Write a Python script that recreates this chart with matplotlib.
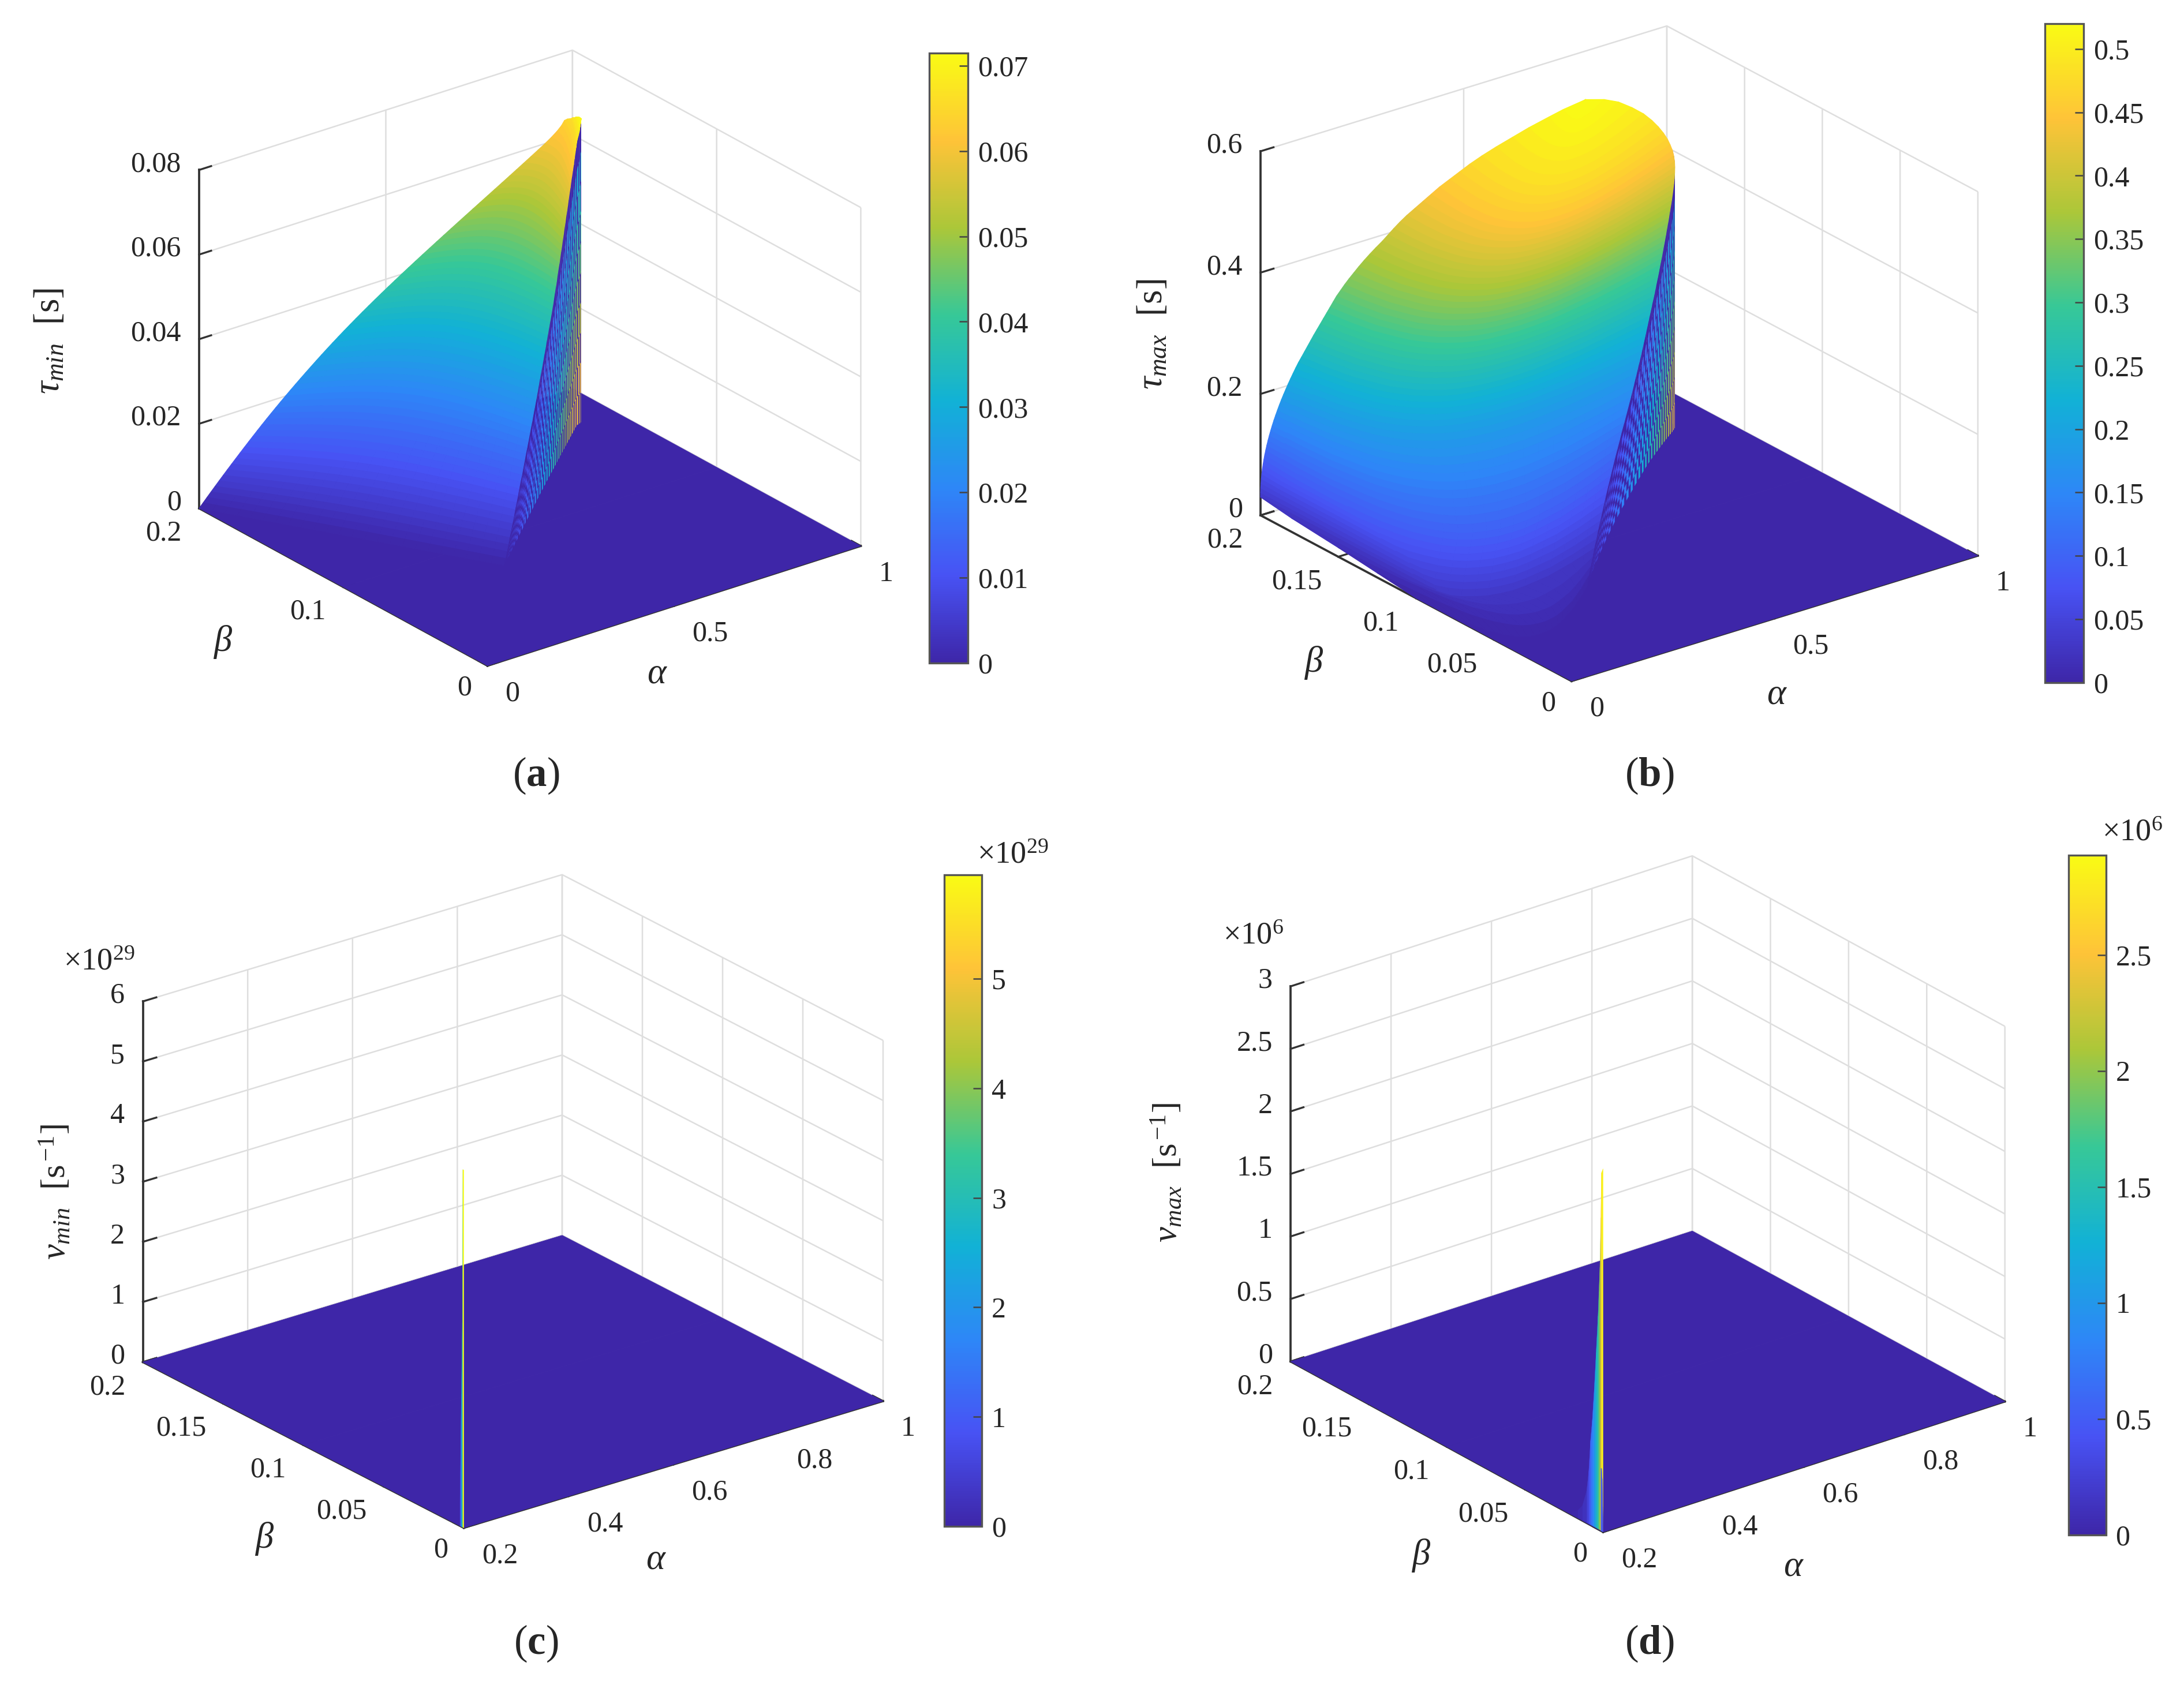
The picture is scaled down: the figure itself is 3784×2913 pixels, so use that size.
import numpy as np
import matplotlib
matplotlib.use('Agg')
import matplotlib.pyplot as plt
from matplotlib.cm import ScalarMappable
from matplotlib.colors import LinearSegmentedColormap, Normalize
from mpl_toolkits.mplot3d import proj3d

W, H = 3784, 2913

parula_colors = [(0.2422, 0.1504, 0.6603), (0.2810, 0.3228, 0.9579), (0.1786, 0.5289, 0.9682),
                 (0.0689, 0.6948, 0.8394), (0.2161, 0.7843, 0.5923), (0.6720, 0.7793, 0.2227),
                 (0.9970, 0.7659, 0.2199), (0.9769, 0.9839, 0.0805)]

# tau_min surface, one row per height: left end (alpha, beta) and right end (alpha, beta)
tau_min_z = [0, .001, .002, .003, .004, .005, .006, .007, .008, .009,
             .010, .011, .012, .013, .014, .015, .016, .017, .018, .019,
             .020, .021, .022, .023, .024, .025, .026, .027, .028, .029,
             .030, .031, .032, .033, .034, .035, .036, .037, .038, .039,
             .040, .041, .042, .043, .044, .045, .046, .047, .048, .049,
             .050, .051, .052, .053, .054, .055, .056, .057, .058, .059,
             .060, .061, .062, .063, .064, .065, .066, .067, .068, .069,
             .070, .071, .0717]
tau_min_left_a = [0, .0105, .0211, .0318, .0426, .0535, .0645, .0756, .0868, .0981,
                  .1095, .1210, .1326, .1443, .1561, .1681, .1803, .1927, .2053, .2181,
                  .2311, .2443, .2577, .2713, .2851, .2991, .3133, .3277, .3424, .3574,
                  .3727, .3883, .4042, .4204, .4369, .4537, .4708, .4882, .5059, .5239,
                  .5421, .5605, .5791, .5979, .6169, .6360, .6552, .6745, .6939, .7134,
                  .7330, .7526, .7722, .7918, .8114, .8309, .8503, .8696, .8888, .9078,
                  .9266, .9436, .9586, .9706, .9786, .975, .970, .962, .953, .943,
                  .933, .922, .911]
tau_min_left_b = [.2] * 65 + [.197, .193, .190, .186, .183, .179, .175, .171]
tau_min_right_a = [.338, .3487, .3594, .3701, .3808, .3915, .4022, .4129, .4236, .4343,
                   .4450, .4557, .4662, .4767, .4871, .4975, .5078, .5180, .5281, .5381,
                   .5480, .5578, .5675, .5771, .5866, .5960, .6053, .6145, .6236, .6326,
                   .6415, .6503, .6590, .6676, .6761, .6845, .6928, .7010, .7088, .7160,
                   .7232, .7302, .7371, .7439, .7506, .7572, .7637, .7702, .7766, .7830,
                   .7893, .7956, .8019, .8082, .8145, .8208, .8270, .8332, .8394, .8456,
                   .8518, .8580, .8642, .8704, .8766, .8828, .8885, .8940, .8990, .9030,
                   .9065, .9095, .911]
tau_min_right_b = [.076, .0779, .0797, .0815, .0834, .0852, .0870, .0888, .0907, .0925,
                   .0943, .0962, .0980, .0997, .1015, .1033, .1051, .1068, .1085, .1102,
                   .1119, .1135, .1152, .1168, .1184, .1200, .1216, .1232, .1247, .1262,
                   .1277, .1292, .1306, .1321, .1335, .1349, .1363, .1376, .1389, .1401,
                   .1413, .1425, .1436, .1447, .1459, .1470, .1480, .1491, .1502, .1512,
                   .1523, .1533, .1544, .1554, .1565, .1575, .1585, .1596, .1606, .1616,
                   .1627, .1637, .1647, .1657, .1668, .1678, .1687, .1696, .1700, .1702,
                   .1706, .1708, .171]
tau_min_bow = [0, .003, .006, .009, .012, .015, .018, .021, .024, .027, .03, .033, .036, .039, .042, .045, .048,
               .051, .054, .057, .06] + [.06] * 30 + [.057, .054, .051, .048, .045, .042, .039, .036, .033, .03,
                                                     .027, .024, .021, .018, .015, .012, .01, .008, .006, .004,
                                                     .002, 0]

# tau_max surface
tau_max_z = [0, .0075, .015, .0225, .03, .0375, .045, .0525, .06, .0675,
             .075, .0825, .09, .0975, .105, .1125, .12, .1275, .135, .1425,
             .15, .1575, .165, .1725, .18, .1875, .195, .2025, .21, .2175,
             .225, .2325, .24, .2475, .255, .2625, .27, .2775, .285, .2925,
             .30, .3075, .315, .3225, .33, .3375, .345, .3525, .36, .3675,
             .375, .3825, .39, .3975, .405, .4125, .42, .4275, .435, .4425,
             .45, .4575, .465, .4725, .48, .4875, .495, .5025, .51, .515,
             .52]
tau_max_left_a = [0, 0, 0, 0, 0, .0001, .0005, .0012, .002, .0032,
                  .0046, .0063, .0082, .0104, .0129, .0156, .0186, .0218, .0253, .029,
                  .033, .0373, .0418, .0465, .0515, .0568, .0623, .068, .074, .0802,
                  .0866, .0933, .101, .1085, .116, .1235, .131, .139, .147, .155,
                  .163, .171, .179, .187, .197, .207, .218, .230, .242, .255,
                  .269, .284, .300, .314, .328, .343, .360, .380, .40, .42,
                  .44, .465, .49, .515, .545, .58, .62, .66, .71, .745,
                  .80]
tau_max_left_b = [.10, .125, .15, .18] + [.2] * 67
tau_max_right_a = [.303, .3195, .336, .3525, .369, .3855, .402, .4185, .435, .4515,
                   .468, .4845, .501, .5175, .534, .5505, .567, .583, .5985, .6135,
                   .628, .642, .6555, .6685, .681, .693, .7045, .7155, .726, .736,
                   .7455, .7545, .763, .7712, .7792, .787, .7945, .8018, .8089, .8158,
                   .8225, .829, .8353, .8414, .8473, .853, .8585, .8638, .8689, .8738,
                   .8785, .883, .8873, .8914, .8953, .899, .9025, .9055, .908, .9098,
                   .9105, .9105, .9095, .9075, .9045, .90, .893, .88, .862, .838,
                   .80]
tau_max_right_b = [.069, .0725, .0757, .0788, .082, .085, .0881, .0911, .0941, .0971,
                   .1001, .103, .1059, .1088, .1117, .1145, .1173, .1201, .1226, .1251,
                   .1275, .1298, .132, .1342, .1362, .1382, .14, .1418, .1435, .1451,
                   .1466, .148, .1493, .1505, .1517, .1528, .1539, .155, .156, .157,
                   .158, .1589, .1598, .1607, .1615, .1623, .1631, .1638, .1645, .1652,
                   .1658, .1664, .167, .1676, .1682, .1688, .1695, .1702, .171, .172,
                   .173, .1745, .176, .178, .1805, .1835, .187, .191, .195, .198,
                   .2]
tau_max_bow = [-.09, -.09, -.10, -.13] + [-.18] * 57 + [-.17, -.165, -.16, -.15, -.14, -.12, -.10, -.08, -.05, 0]
tau_max_bow_b = [-.2, -.24, -.27, -.30] + [-.30] * 10 + [-.29, -.28, -.27, -.26, -.25, -.24, -.23, -.22, -.21, -.20,
                                                         -.19, -.185, -.18, -.18] + [-.18] * 33 + \
                [-.17, -.165, -.16, -.15, -.14, -.12, -.10, -.08, -.05, 0]

# how far a row sags between its two ends
bow_shape = [0, .13, .26, .38, .5, .6, .7, .79, .86, .92, .96, .99, 1, .99, .96, .92, .86, .79, .7, .6, .5, .38, .26, .13, 0]

# spikes at alpha = 0.2: beta of each strip, height in the axis units (1e29 and 1e6)
v_min_beta = [.0024, .0021, .0018, .0015, .0012, .0009, .0006, 0]
v_min_height = [.4, .9, 1.6, 2.2, 2.8, 3.4, 5.95, 5.95]
v_max_beta = [.0204, .0165, .0135, .0108, .0095, .0084, .0072, .006, .0048, .0036, .003, .0024, .0018, .00144, .0004]
v_max_height = [.02, .06, .12, .26, .42, .67, .85, 1.1, 1.4, 1.7, 1.9, 2.1, 2.5, 2.86, 2.9]
v_max_front_beta = [.0014, .0010, .0006, .0003, 0]
v_max_front_height = [.5, .5, .42, .2, .05]

cbar_ticks_a = [0, .01, .02, .03, .04, .05, .06, .07]
cbar_labels_a = ['0', '0.01', '0.02', '0.03', '0.04', '0.05', '0.06', '0.07']
cbar_ticks_b = [0, .05, .1, .15, .2, .25, .3, .35, .4, .45, .5]
cbar_labels_b = ['0', '0.05', '0.1', '0.15', '0.2', '0.25', '0.3', '0.35', '0.4', '0.45', '0.5']
cbar_ticks_c = [0, 1, 2, 3, 4, 5]
cbar_labels_c = ['0', '1', '2', '3', '4', '5']
cbar_ticks_d = [0, .5, 1, 1.5, 2, 2.5]
cbar_labels_d = ['0', '0.5', '1', '1.5', '2', '2.5']

alpha_ticks_ab = [0, .5, 1]
alpha_labels_ab = ['0', '0.5', '1']
alpha_ticks_cd = [.2, .4, .6, .8, 1]
alpha_labels_cd = ['0.2', '0.4', '0.6', '0.8', '1']
beta_ticks_a = [0, .1, .2]
beta_labels_a = ['0', '0.1', '0.2']
beta_ticks = [0, .05, .1, .15, .2]
beta_labels = ['0', '0.05', '0.1', '0.15', '0.2']
z_ticks_a = [0, .02, .04, .06, .08]
z_labels_a = ['0', '0.02', '0.04', '0.06', '0.08']
z_ticks_b = [0, .2, .4, .6]
z_labels_b = ['0', '0.2', '0.4', '0.6']
z_ticks_c = [0, 1, 2, 3, 4, 5, 6]
z_labels_c = ['0', '1', '2', '3', '4', '5', '6']
z_ticks_d = [0, .5, 1, 1.5, 2, 2.5, 3]
z_labels_d = ['0', '0.5', '1', '1.5', '2', '2.5', '3']

plt.rcParams['font.family'] = ['Liberation Serif', 'DejaVu Serif']
plt.rcParams['mathtext.fontset'] = 'custom'
plt.rcParams['mathtext.rm'] = 'Liberation Serif'
plt.rcParams['mathtext.it'] = 'Liberation Serif:italic'
plt.rcParams['mathtext.bf'] = 'Liberation Serif:bold'
plt.rcParams['mathtext.fallback'] = 'stix'
plt.rcParams['grid.color'] = '#dedede'
plt.rcParams['grid.linewidth'] = 0.6
plt.rcParams['axes.linewidth'] = 0.6
plt.rcParams['axes.edgecolor'] = '#333333'
TEXT = '#262626'
FS = 12

parula = LinearSegmentedColormap.from_list('parula', parula_colors, N=256)
fig = plt.figure(figsize=(W / 300, H / 300), dpi=300, facecolor='white')


def sx(x):
    return x / 1568


def sy(y):
    return 1 - y / 1207


def label(x, y, s, **kw):
    kw.setdefault('fontsize', FS)
    fig.text(sx(x), sy(y), s, ha='center', va='center', color=TEXT, **kw)


# Work out the view from where the box corners sit in the reference (1568 wide coords)
def make_axes(origin, xend, yend, ztop, xlim, zmax, xticks, xlabels, yticks, ylabels, zticks, zlabels):
    xdx, xdy = xend[0] - origin[0], origin[1] - xend[1]
    ydx, ydy = origin[0] - yend[0], origin[1] - yend[1]
    r1, r2 = xdy / xdx, ydy / ydx
    sin_e = np.sqrt(r1 * r2)
    a = np.arctan(np.sqrt(r1 / r2))
    e = np.arcsin(sin_e)
    lx, ly = xdx / np.cos(a), ydx / np.sin(a)
    lz = (yend[1] - ztop[1]) / np.cos(e)

    ax = fig.add_axes([0.1, 0.1, 0.3, 0.3 * W / H], projection='3d', proj_type='ortho', computed_zorder=False)
    ax.view_init(elev=np.degrees(e), azim=-90 - np.degrees(a))
    ax.set_box_aspect((lx, ly, lz))
    ax.set_xlim(xlim[0], xlim[1], view_margin=0)
    ax.set_ylim(0, .2, view_margin=0)
    ax.set_zlim(0, zmax, view_margin=0)
    ax.patch.set_visible(False)
    ax.set_xticks(xticks, [''] * len(xticks))
    ax.set_yticks(yticks, [''] * len(yticks))
    ax.set_zticks(zticks, [''] * len(zticks))
    for axis in [ax.xaxis, ax.yaxis, ax.zaxis]:
        axis.pane.set_visible(False)
        axis.line.set_color('#333333')
        axis.line.set_linewidth(0.9)
        axis._axinfo['tick']['inward_factor'] = 0
        axis._axinfo['tick']['outward_factor'] = 0.4
    ax.tick_params(axis='both', color='#333333', width=0.6)
    ax.tick_params(axis='z', color='#333333', width=0.6)
    ax.target = (origin, xend, xlim, zmax)
    ax.tick_text = (xticks, xlabels, yticks, ylabels, zticks, zlabels)
    return ax


def to_fig(ax, x, y, z):
    p = proj3d.proj_transform(x, y, z, ax.M)[:2]
    return ax.transData.transform(p)


def fit_axes(ax):
    # move and scale the axes until the box corners land on the targets
    origin, xend, xlim, zmax = ax.target
    ax.M = ax.get_proj()
    q0 = to_fig(ax, xlim[0], 0, 0)
    q1 = to_fig(ax, xlim[1], 0, 0)
    want0 = np.array([origin[0] / 1568 * W, (1 - origin[1] / 1207) * H])
    want1 = np.array([xend[0] / 1568 * W, (1 - xend[1] / 1207) * H])
    k = np.linalg.norm(want1 - want0) / np.linalg.norm(q1 - q0)
    pos = ax.get_position()
    cx, cy = (pos.x0 + pos.x1) / 2 * W, (pos.y0 + pos.y1) / 2 * H
    cx2 = want0[0] + (cx - q0[0]) * k
    cy2 = want0[1] + (cy - q0[1]) * k
    w2, h2 = pos.width * k, pos.height * k
    ax.set_position([cx2 / W - w2 / 2, cy2 / H - h2 / 2, w2, h2])


def tick_text(ax, x, y, z, s, dx, dy, ha='center'):
    # dx, dy are reference pixels from the foot of the tick
    p = to_fig(ax, x, y, z)
    fig.text(p[0] / W + dx / 1568, p[1] / H - dy / 1207, s, ha=ha, va='center', color=TEXT, fontsize=FS)


def place_tick_labels(ax):
    xticks, xlabels, yticks, ylabels, zticks, zlabels = ax.tick_text
    ax.M = ax.get_proj()
    for v, s in zip(xticks, xlabels):
        tick_text(ax, v, 0, 0, s, 14 + 4 * len(s), 20)
    for v, s in zip(yticks, ylabels):
        tick_text(ax, xticks[0], v, 0, s, -(12 + 4.5 * len(s)), 16 if s == '0' else 18)
    for v, s in zip(zticks, zlabels):
        tick_text(ax, xticks[0], .2, v, s, -13, -4, ha='right')


def floor(ax, xlim, xback):
    # xback leaves out the far left corner where the surface hangs clear of the floor
    xx = np.array([[xlim[0], xlim[1]], [xlim[0], xlim[1]], [xback, xlim[1]]])
    yy = np.array([[0, 0], [.1, .1], [.2, .2]])
    ax.plot_surface(xx, yy, np.zeros_like(xx), facecolors=parula(np.zeros((2, 1))), shade=False,
                    rstride=1, cstride=1, linewidth=0.2, zorder=1)


def sheet(ax, z, left_a, left_b, right_a, right_b, bow, bow_b, zmax):
    z = np.array(z)
    la, lb, ra, rb = map(np.array, (left_a, left_b, right_a, right_b))
    frac = np.linspace(0, 1, len(bow_shape))
    aa = np.clip(la[:, None] + np.outer(ra - la, frac) + np.outer(bow, bow_shape), 0, 1)
    bb = np.clip(lb[:, None] + np.outer(rb - lb, frac) + .2 * np.outer(bow_b, bow_shape), 0, .2)
    zz = np.outer(z, np.ones(len(frac)))
    norm = Normalize(0, zmax)
    # the drop from the right end of each row down to the floor, a comb of light and dark facets
    levels = np.array([0, .1, .2, .3, .4, .5, .6, .7, .8, .9, 1])
    n = np.searchsorted(z, z[np.argmax(ra)]) + 1
    wa = np.outer(ra[:n], np.ones(len(levels)))
    wb = np.outer(rb[:n], np.ones(len(levels)))
    wz = np.outer(z[:n], levels)
    shade_vals = np.outer(np.arange(n - 1) / (n - 1), 1 - .6 * levels[1:])
    ii, jj = np.indices(shade_vals.shape)
    shade_vals[(ii + jj) % 2 == 0] = 0
    shade_vals[:, -1] = 0
    ax.plot_surface(wa, wb, wz, facecolors=parula(shade_vals), shade=False, rstride=1, cstride=1,
                    linewidth=0.1, zorder=2)
    ax.plot_surface(aa, bb, zz, facecolors=parula(norm(zz[:-1, :-1] / 2 + zz[1:, 1:] / 2)), shade=False,
                    rstride=1, cstride=1, linewidth=0.3, zorder=3)


def strips(ax, beta, height, alpha, zmax, zorder):
    beta, height = np.array(beta), np.array(height)
    aa = np.full((len(beta), 2), alpha)
    bb = np.column_stack([beta, beta])
    zz = np.column_stack([np.zeros(len(beta)), height])
    ax.plot_surface(aa, bb, zz, facecolors=parula(Normalize(0, zmax)(height[:-1, None])), shade=False,
                    rstride=1, cstride=1, linewidth=0.1, zorder=zorder)


def colorbar(rect, vmax, ticks, labels):
    # rect is x0, y_top, x1, y_bottom in reference coords
    cax = fig.add_axes([sx(rect[0]), sy(rect[3]), sx(rect[2]) - sx(rect[0]), sy(rect[1]) - sy(rect[3])])
    cb = fig.colorbar(ScalarMappable(Normalize(0, vmax), parula), cax=cax, ticks=ticks)
    cb.set_ticklabels(labels)
    cb.outline.set_edgecolor('#555555')
    cb.outline.set_linewidth(0.8)
    cax.tick_params(direction='in', length=3.5, width=0.6, color='#444444', labelsize=FS, labelcolor=TEXT, pad=4)


ax_a = make_axes((350, 478), (618, 392), (143, 365), (143, 122), (0, 1), .08,
                 alpha_ticks_ab, alpha_labels_ab, beta_ticks_a, beta_labels_a, z_ticks_a, z_labels_a)
floor(ax_a, [0, 1], 0)
sheet(ax_a, tau_min_z, tau_min_left_a, tau_min_left_b, tau_min_right_a, tau_min_right_b, tau_min_bow, tau_min_bow, .0717)

ax_b = make_axes((1128.3, 489), (1420, 399), (905, 370), (905, 108.6), (0, 1), .6,
                 alpha_ticks_ab, alpha_labels_ab, beta_ticks, beta_labels, z_ticks_b, z_labels_b)
floor(ax_b, [0, 1], .5)
sheet(ax_b, tau_max_z, tau_max_left_a, tau_max_left_b, tau_max_right_a, tau_max_right_b, tau_max_bow, tau_max_bow_b, .52)

ax_c = make_axes((333, 1097), (634, 1006), (102.6, 978), (102.6, 719), (.2, 1), 6,
                 alpha_ticks_cd, alpha_labels_cd, beta_ticks, beta_labels, z_ticks_c, z_labels_c)
floor(ax_c, [.2, 1], .2)
strips(ax_c, v_min_beta, v_min_height, .2, 5.95, 2)

ax_d = make_axes((1151, 1100), (1439.4, 1006.3), (926.6, 977.6), (926.6, 708.2), (.2, 1), 3,
                 alpha_ticks_cd, alpha_labels_cd, beta_ticks, beta_labels, z_ticks_d, z_labels_d)
floor(ax_d, [.2, 1], .2)
strips(ax_d, v_max_beta, v_max_height, .201, 2.93, 2)
strips(ax_d, v_max_front_beta, v_max_front_height, .2, 2.93, 3)

axes_all = [ax_a, ax_b, ax_c, ax_d]
for i in range(3):
    fig.canvas.draw()
    for ax in axes_all:
        fit_axes(ax)
fig.canvas.draw()
for ax in axes_all:
    place_tick_labels(ax)

colorbar((667, 38, 695, 476), .0715, cbar_ticks_a, cbar_labels_a)
colorbar((1468, 17, 1496, 490), .52, cbar_ticks_b, cbar_labels_b)
colorbar((678, 628, 705, 1096), 5.95, cbar_ticks_c, cbar_labels_c)
colorbar((1485, 614, 1512, 1102), 2.93, cbar_ticks_d, cbar_labels_d)

label(36, 245, r'$\tau_{min}$  [s]', rotation=90, fontsize=15)
label(828, 240, r'$\tau_{max}$  [s]', rotation=90, fontsize=15)
label(40, 856, r'$v_{min}$  [s$^{\,\mathregular{-1}}$]', rotation=90, fontsize=14.5)
label(838, 842, r'$v_{max}$  [s$^{\,\mathregular{-1}}$]', rotation=90, fontsize=14.5)
for x, y in [(472, 484), (1276, 499), (471, 1120), (1288, 1125)]:
    label(x, y, r'$\alpha$', fontsize=15)
for x, y in [(160, 461), (943, 476), (190, 1105), (1020, 1117)]:
    label(x, y, r'$\beta$', fontsize=15)
label(71, 691, r'$\times\mathregular{10}^{\mathregular{29}}$', fontsize=13)
label(727, 614, r'$\times\mathregular{10}^{\mathregular{29}}$', fontsize=13)
label(899.6, 672, r'$\times\mathregular{10}^{\mathregular{6}}$', fontsize=13)
label(1531, 598, r'$\times\mathregular{10}^{\mathregular{6}}$', fontsize=13)
for x, y, s in [(385, 557, 'a'), (1184, 557, 'b'), (385, 1180, 'c'), (1184, 1180, 'd')]:
    label(x, y, r'($\mathbf{' + s + r'}$)', fontsize=17)

fig.savefig('out.png', dpi=300, facecolor='white')
